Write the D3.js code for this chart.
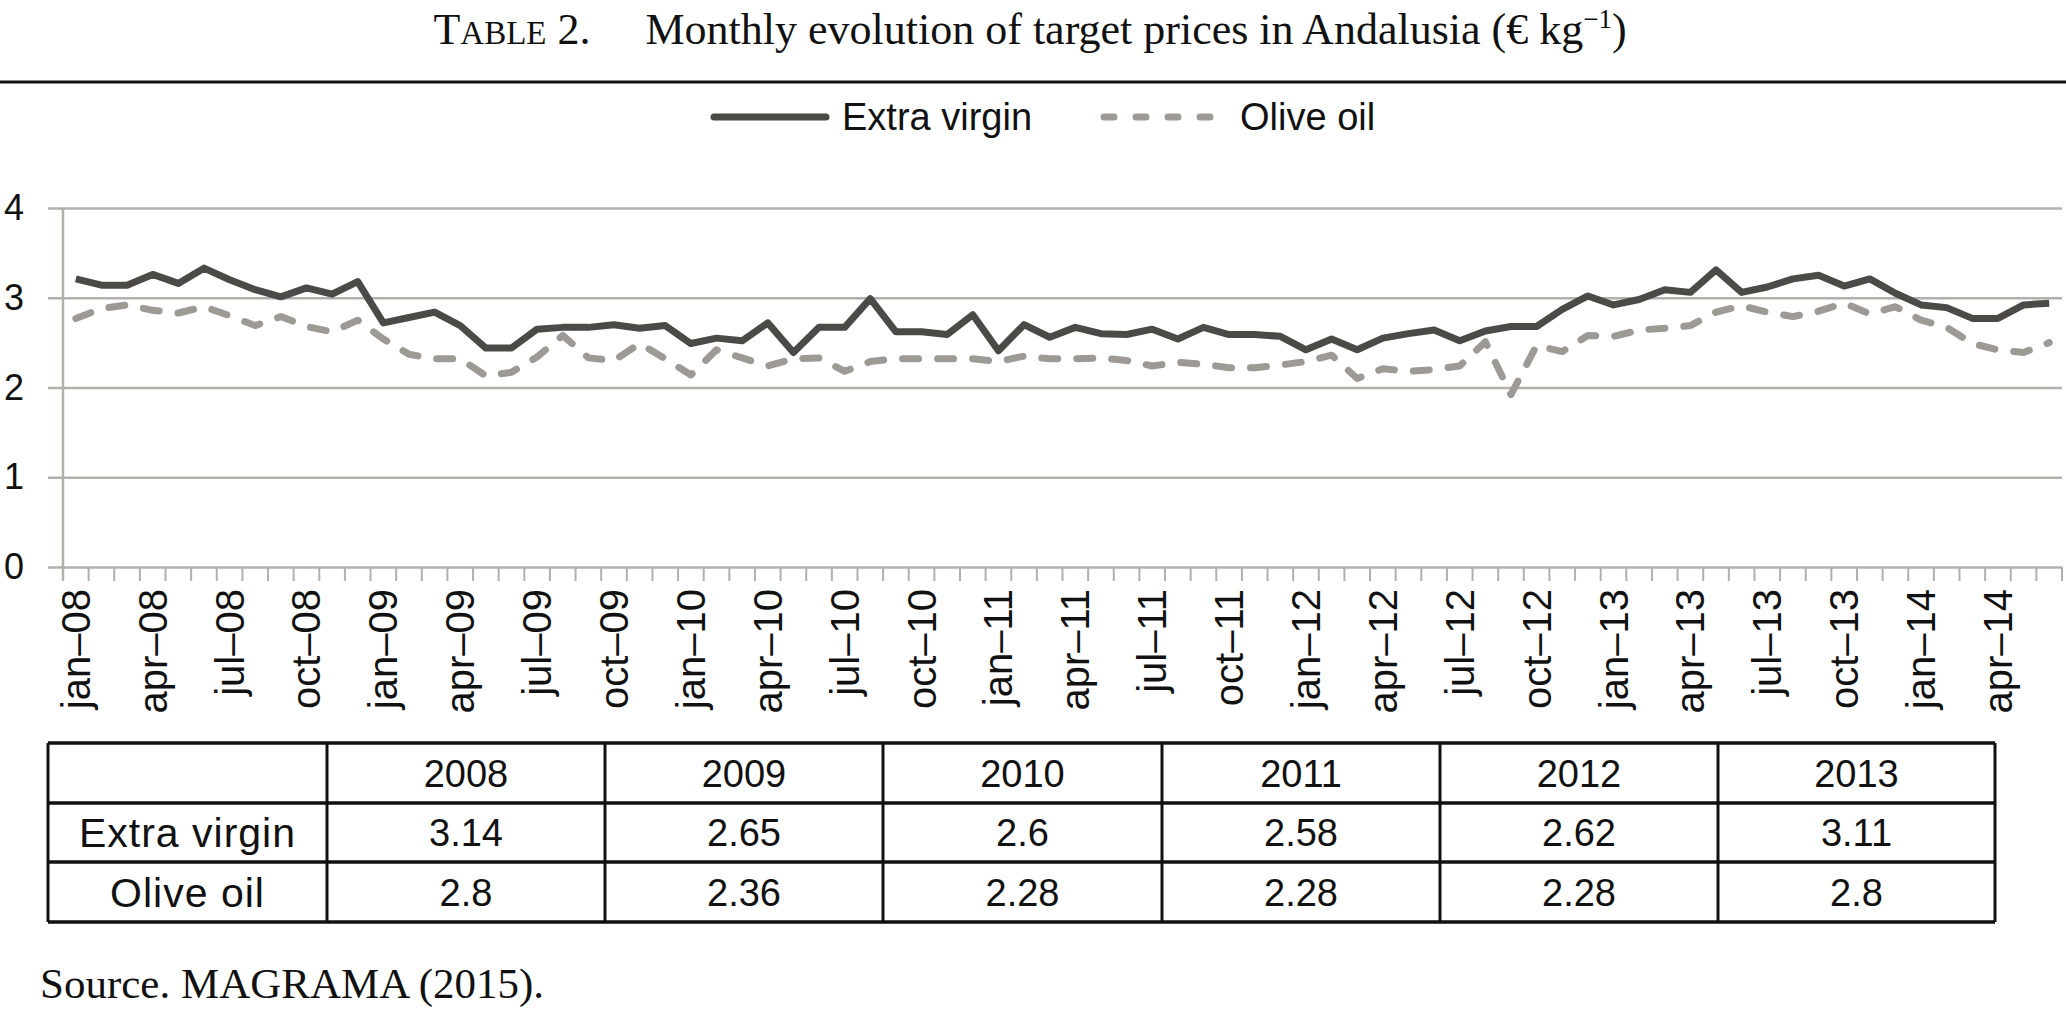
<!DOCTYPE html>
<html>
<head>
<meta charset="utf-8">
<script src="https://cdn.jsdelivr.net/npm/d3@7"></script>
<style>
  body { margin: 0; background: #fff; }
  svg text { font-family: "Liberation Sans", Arial, sans-serif; }
  .serif { font-family: "Liberation Serif", "Times New Roman", serif; }
</style>
</head>
<body>
<div id="chart"></div>
<script>
// month labels and years
var monthNames = ['jan', 'feb', 'mar', 'apr', 'may', 'jun', 'jul', 'aug', 'sep', 'oct', 'nov', 'dec']
var yearLabels = ['08', '09', '10', '11', '12', '13', '14']

// monthly target prices (€/kg), jan-08 .. jun-14
var extraVirgin = [
  3.21, 3.14, 3.14, 3.26, 3.16, 3.33, 3.20, 3.09, 3.01, 3.11, 3.04, 3.18,
  2.72, 2.78, 2.84, 2.69, 2.44, 2.44, 2.65, 2.67, 2.67, 2.70, 2.66, 2.69,
  2.49, 2.55, 2.52, 2.72, 2.39, 2.67, 2.67, 2.99, 2.62, 2.62, 2.59, 2.81,
  2.41, 2.70, 2.56, 2.67, 2.60, 2.59, 2.65, 2.54, 2.67, 2.59, 2.59, 2.57,
  2.42, 2.54, 2.42, 2.55, 2.60, 2.64, 2.52, 2.63, 2.68, 2.68, 2.87, 3.02,
  2.92, 2.98, 3.09, 3.06, 3.31, 3.06, 3.12, 3.21, 3.25, 3.13, 3.21, 3.05,
  2.92, 2.89, 2.77, 2.77, 2.92, 2.94
]
var oliveOil = [
  2.77, 2.88, 2.92, 2.86, 2.83, 2.90, 2.80, 2.69, 2.79, 2.68, 2.62, 2.75,
  2.54, 2.37, 2.32, 2.32, 2.13, 2.17, 2.34, 2.58, 2.33, 2.30, 2.49, 2.32,
  2.14, 2.42, 2.33, 2.24, 2.32, 2.33, 2.18, 2.29, 2.32, 2.32, 2.32, 2.32,
  2.29, 2.35, 2.32, 2.32, 2.33, 2.30, 2.24, 2.28, 2.26, 2.22, 2.22, 2.25,
  2.29, 2.36, 2.10, 2.21, 2.18, 2.20, 2.24, 2.51, 1.92, 2.47, 2.40, 2.58,
  2.57, 2.64, 2.66, 2.69, 2.84, 2.91, 2.84, 2.79, 2.85, 2.94, 2.82, 2.90,
  2.75, 2.67, 2.49, 2.42, 2.39, 2.50
]

// annual averages table
var tableYears = ['2008', '2009', '2010', '2011', '2012', '2013']
var tableExtra = ['3.14', '2.65', '2.6', '2.58', '2.62', '3.11']
var tableOlive = ['2.8', '2.36', '2.28', '2.28', '2.28', '2.8']
var yTicks = [0, 1, 2, 3, 4]

var width = 2066,
  height = 1012
var plot = { left: 63, right: 2062, top: 208, bottom: 567 }

var months = []
yearLabels.forEach(y => monthNames.forEach(m => months.push(m + '\u2013' + y)))
months = months.slice(0, extraVirgin.length)

var svg = d3.select('#chart')
  .append('svg')
  .attr('width', width)
  .attr('height', height)

// Title
var title = svg.append('text')
  .attr('class', 'serif')
  .attr('x', 1030)
  .attr('y', 44)
  .attr('text-anchor', 'middle')
  .style('font-size', '44px')
  .style('fill', '#111')
title.append('tspan').text('T')
title.append('tspan').style('font-size', '33px').text('ABLE')
title.append('tspan').text(' 2.\u2003 Monthly evolution of target prices in Andalusia (\u20ac kg')
title.append('tspan').attr('dy', -16).style('font-size', '27px').text('\u22121')
title.append('tspan').attr('dy', 16).text(')')

svg.append('line')
  .attr('x1', 0).attr('x2', width)
  .attr('y1', 82).attr('y2', 82)
  .style('stroke', '#111')
  .style('stroke-width', 3)

// Scales
var xScale = d3.scaleBand()
  .domain(months)
  .range([plot.left, plot.right])

var yScale = d3.scaleLinear()
  .domain([0, 4])
  .range([plot.bottom, plot.top])

// Y grid + labels
var yGrid = d3.axisLeft(yScale)
  .tickValues(yTicks)
  .tickFormat(d3.format('d'))
  .tickSize(-(plot.right - 48))
  .tickPadding(24)

svg.append('g')
  .attr('transform', 'translate(48,0)')
  .attr('class', 'grid')
  .call(yGrid)
  .call(g => g.select('.domain').remove())
  .call(g => g.selectAll('.tick line').style('stroke', '#b3afab').style('stroke-width', 2.5))
  .call(g => g.selectAll('.tick text')
    .style('font-size', '36px')
    .style('font-family', '"Liberation Sans", Arial, sans-serif')
    .style('fill', '#111'))

// vertical axis line
svg.append('line')
  .attr('x1', plot.left).attr('x2', plot.left)
  .attr('y1', yScale(4)).attr('y2', yScale(0) + 14)
  .style('stroke', '#b3afab')
  .style('stroke-width', 2.5)

// month boundary ticks
var edges = months.map(m => xScale(m)).concat([xScale(months[months.length - 1]) + xScale.bandwidth()])
svg.append('g')
  .selectAll('line')
  .data(edges)
  .enter()
  .append('line')
  .attr('x1', d => d).attr('x2', d => d)
  .attr('y1', yScale(0)).attr('y2', yScale(0) + 14)
  .style('stroke', '#b3afab')
  .style('stroke-width', 2)

// X labels (every quarter)
var xAxis = d3.axisBottom(xScale)
  .tickValues(months.filter((d, i) => i % 3 === 0))
  .tickSize(0)

svg.append('g')
  .attr('transform', `translate(0,${yScale(0)})`)
  .call(xAxis)
  .call(g => g.select('.domain').remove())
  .selectAll('.tick text')
  .attr('transform', 'rotate(-90)')
  .attr('x', -22)
  .attr('y', 0)
  .attr('dy', '0.35em')
  .style('text-anchor', 'end')
  .style('font-size', '40px')
  .style('font-family', '"Liberation Sans", Arial, sans-serif')
  .style('fill', '#111')

// Lines
var line = d3.line()
  .x((d, i) => xScale(months[i]) + xScale.bandwidth() / 2)
  .y(d => yScale(d))

svg.append('path')
  .datum(oliveOil)
  .attr('d', line)
  .style('fill', 'none')
  .style('stroke', '#9d9994')
  .style('stroke-width', 7)
  .style('stroke-linecap', 'round')
  .style('stroke-linejoin', 'round')
  .style('stroke-dasharray', '16,19')

svg.append('path')
  .datum(extraVirgin)
  .attr('d', line)
  .style('fill', 'none')
  .style('stroke', '#4b4a47')
  .style('stroke-width', 7)
  .style('stroke-linejoin', 'round')

// Legend
var legend = svg.append('g')
legend.append('line')
  .attr('x1', 714).attr('x2', 826)
  .attr('y1', 117).attr('y2', 117)
  .style('stroke', '#4b4a47')
  .style('stroke-width', 7)
  .style('stroke-linecap', 'round')
legend.append('text')
  .attr('x', 842).attr('y', 117)
  .attr('dy', '0.35em')
  .style('font-size', '38px')
  .style('fill', '#111')
  .text('Extra virgin')
legend.append('line')
  .attr('x1', 1104).attr('x2', 1224)
  .attr('y1', 117).attr('y2', 117)
  .style('stroke', '#9d9994')
  .style('stroke-width', 7)
  .style('stroke-linecap', 'round')
  .style('stroke-dasharray', '10,22')
legend.append('text')
  .attr('x', 1240).attr('y', 117)
  .attr('dy', '0.35em')
  .style('font-size', '38px')
  .style('fill', '#111')
  .text('Olive oil')

// Table
var colX = [48, 327, 605, 883, 1162, 1440, 1718, 1995]
var rowY = [743, 803, 862, 922]
var rows = [[''].concat(tableYears), ['Extra virgin'].concat(tableExtra), ['Olive oil'].concat(tableOlive)]

var table = svg.append('g')
table.selectAll('.hline')
  .data(rowY)
  .enter()
  .append('line')
  .attr('x1', colX[0]).attr('x2', colX[colX.length - 1])
  .attr('y1', d => d).attr('y2', d => d)
  .style('stroke', '#111')
  .style('stroke-width', 3.5)
table.selectAll('.vline')
  .data(colX)
  .enter()
  .append('line')
  .attr('x1', d => d).attr('x2', d => d)
  .attr('y1', rowY[0]).attr('y2', rowY[rowY.length - 1])
  .style('stroke', '#111')
  .style('stroke-width', 3)

rows.forEach((r, ri) => {
  table.selectAll('.cell-' + ri)
    .data(r)
    .enter()
    .append('text')
    .attr('x', (d, ci) => (colX[ci] + colX[ci + 1]) / 2)
    .attr('y', (rowY[ri] + rowY[ri + 1]) / 2)
    .attr('dy', '0.36em')
    .attr('text-anchor', 'middle')
    .style('font-size', (d, ci) => ci === 0 ? '41px' : '38px')
    .style('letter-spacing', (d, ci) => ci === 0 ? '1px' : '0px')
    .style('fill', '#111')
    .text(d => d)
})

svg.append('text')
  .attr('class', 'serif')
  .attr('x', 40)
  .attr('y', 998)
  .style('font-size', '43px')
  .style('fill', '#111')
  .text('Source. MAGRAMA (2015).')
</script>
</body>
</html>
